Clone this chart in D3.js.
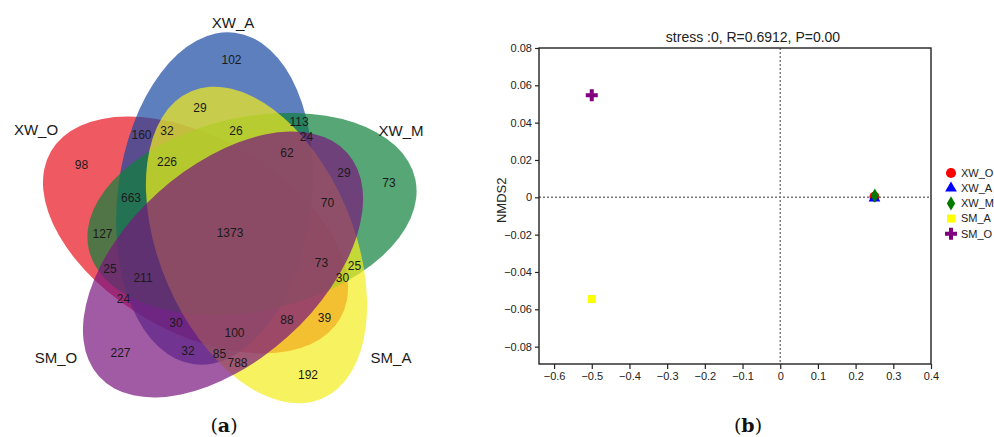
<!DOCTYPE html>
<html>
<head>
<meta charset="utf-8">
<script src="https://cdn.jsdelivr.net/npm/d3@7"></script>
<style>
body { margin: 0; background: #fff; }
svg { display: block; font-family: "Liberation Sans", Arial, sans-serif; }
</style>
</head>
<body>
<script>
var W = 994, H = 437;

// ---------- (a) Venn data ----------
var setNames = ['XW_O', 'XW_A', 'XW_M', 'SM_A', 'SM_O'];
var setColors = ['#e8131f', '#1948a2', '#0e813b', '#f4ec1c', '#79157e'];

// count of each region and the sets that region belongs to
var vennCounts = [102, 29, 113, 160, 32, 26, 24, 98, 226, 62, 29, 73, 663, 70, 127,
                  1373, 25, 211, 73, 25, 30, 24, 30, 100, 88, 39, 32, 85, 788, 227, 192];
var vennRegions = [
    'XW_A', 'XW_A,SM_A', 'XW_A,XW_M', 'XW_O,XW_A', 'XW_O,XW_A,SM_A',
    'XW_A,XW_M,SM_A', 'XW_A,XW_M,SM_O', 'XW_O', 'XW_O,XW_A,XW_M,SM_A', 'XW_A,XW_M,SM_A,SM_O',
    'XW_M,SM_O', 'XW_M', 'XW_O,XW_A,XW_M', 'XW_M,SM_A,SM_O', 'XW_O,XW_M',
    'XW_O,XW_A,XW_M,SM_A,SM_O', 'XW_O,XW_M,SM_O', 'XW_O,XW_A,XW_M,SM_O', 'XW_O,XW_M,SM_A,SM_O', 'XW_M,SM_A',
    'XW_O,XW_M,SM_A', 'XW_O,SM_O', 'XW_O,XW_A,SM_O', 'XW_O,XW_A,SM_A,SM_O', 'XW_O,SM_A,SM_O',
    'XW_O,SM_A', 'XW_A,SM_O', 'XW_A,SM_A,SM_O', 'SM_A,SM_O', 'SM_O', 'SM_A'
];

// ---------- (b) NMDS data ----------
var groups = ['XW_O', 'XW_A', 'XW_M', 'SM_A', 'SM_O'];
var nmds1 = [0.25, 0.25, 0.251, -0.5, -0.5];
var nmds2 = [0.0003, -0.0004, 0.0009, -0.0545, 0.0547];
var xTicks = [-0.6, -0.5, -0.4, -0.3, -0.2, -0.1, 0, 0.1, 0.2, 0.3, 0.4];
var yTicks = [-0.08, -0.06, -0.04, -0.02, 0, 0.02, 0.04, 0.06, 0.08];
var titleText = 'stress :0, R=0.6912, P=0.00';

var svg = d3.select('body').append('svg').attr('width', W).attr('height', H);

// ---------- Venn layout ----------
var RX = 167, RY = 97;
var shapes = [
    {cx: 195.5, cy: 235,   rot: 30,  lx: 36,  ly: 130},
    {cx: 214.5, cy: 198.5, rot: -83, lx: 233, ly: 23},
    {cx: 252,   cy: 214,   rot: -12, lx: 401, ly: 131},
    {cx: 256.5, cy: 245,   rot: 67,  lx: 391, ly: 358},
    {cx: 223,   cy: 264.5, rot: -42, lx: 56,  ly: 358}
];

var venn = svg.append('g');

venn.selectAll('ellipse').data(shapes).enter().append('ellipse')
    .attr('transform', function(d) { return 'translate(' + d.cx + ',' + d.cy + ') rotate(' + d.rot + ')'; })
    .attr('rx', RX).attr('ry', RY)
    .attr('fill', function(d, i) { return setColors[i]; })
    .attr('fill-opacity', 0.7);

// test a point against one ellipse: inside flag and approx distance to its edge
function probe(e, px, py) {
    var t = e.rot * Math.PI / 180, c = Math.cos(t), s = Math.sin(t);
    var dx = px - e.cx, dy = py - e.cy;
    var u = dx * c + dy * s, v = -dx * s + dy * c;
    var q = Math.sqrt(u * u / (RX * RX) + v * v / (RY * RY));
    var g = Math.sqrt(Math.pow(u / (RX * RX), 2) + Math.pow(v / (RY * RY), 2));
    return {inside: q <= 1, dist: g > 0 ? Math.abs(q - 1) * q / g : RY};
}

// find the roomiest spot of every region by scanning a grid
var best = {};
for (var gx = 20; gx <= 440; gx += 1.5) {
    for (var gy = 15; gy <= 415; gy += 1.5) {
        var code = 0, margin = Infinity;
        shapes.forEach(function(e, i) {
            var p = probe(e, gx, gy);
            if (p.inside) code += 1 << i;
            margin = Math.min(margin, p.dist);
        });
        if (!code) continue;
        if (!best[code] || margin > best[code].m) best[code] = {x: gx, y: gy, m: margin};
    }
}

function regionCode(str) {
    return str.split(',').reduce(function(acc, n) { return acc + (1 << setNames.indexOf(n)); }, 0);
}

venn.selectAll('text.count').data(vennCounts).enter().append('text')
    .attr('class', 'count')
    .attr('x', function(d, i) { return best[regionCode(vennRegions[i])].x; })
    .attr('y', function(d, i) { return best[regionCode(vennRegions[i])].y; })
    .attr('dy', '0.35em')
    .attr('text-anchor', 'middle')
    .attr('font-size', '12px')
    .attr('fill', '#1a1a1a')
    .text(function(d) { return d; });

venn.selectAll('text.setname').data(setNames).enter().append('text')
    .attr('class', 'setname')
    .attr('x', function(d, i) { return shapes[i].lx; })
    .attr('y', function(d, i) { return shapes[i].ly; })
    .attr('dy', '0.35em')
    .attr('text-anchor', 'middle')
    .attr('font-size', '15px')
    .attr('fill', '#1a1a1a')
    .text(function(d) { return d; });

// ---------- NMDS plot ----------
var x = d3.scaleLinear().domain([-0.64, 0.4]).range([539, 931]);
var y = d3.scaleLinear().domain([-0.0893, 0.08]).range([364, 48]);

var symbols = [d3.symbolCircle, d3.symbolTriangle, d3.symbolDiamond, d3.symbolSquare, d3.symbolCross];
var symSizes = [80, 60, 60, 64, 80];
var ptColors = ['#ff0000', '#0000ff', '#007a00', '#ffff00', '#800080'];

var plot = svg.append('g');

plot.append('line')
    .attr('x1', x(0)).attr('x2', x(0)).attr('y1', y.range()[1]).attr('y2', y.range()[0])
    .attr('stroke', '#777').attr('stroke-width', 1.4).attr('stroke-dasharray', '2,2');
plot.append('line')
    .attr('x1', x.range()[0]).attr('x2', x.range()[1]).attr('y1', y(0)).attr('y2', y(0))
    .attr('stroke', '#777').attr('stroke-width', 1.4).attr('stroke-dasharray', '2,2');

var xAxis = plot.append('g').attr('transform', 'translate(0,' + y.range()[0] + ')')
    .call(d3.axisBottom(x).tickValues(xTicks).tickSize(5).tickSizeOuter(0)
        .tickFormat(function(d) { return d === 0 ? '0' : d3.format('.1f')(d); }));
var yAxis = plot.append('g').attr('transform', 'translate(' + x.range()[0] + ',0)')
    .call(d3.axisLeft(y).tickValues(yTicks).tickSize(4).tickSizeOuter(0)
        .tickFormat(function(d) { return d === 0 ? '0' : d3.format('.2f')(d); }));

[xAxis, yAxis].forEach(function(ax) {
    ax.select('.domain').remove();
    ax.selectAll('line').attr('stroke', '#222').attr('stroke-width', 1.2);
    ax.selectAll('text').attr('font-size', '11px').attr('fill', '#222')
        .attr('font-family', '"Liberation Sans", Arial, sans-serif');
});

plot.append('rect')
    .attr('x', x.range()[0]).attr('y', y.range()[1])
    .attr('width', x.range()[1] - x.range()[0]).attr('height', y.range()[0] - y.range()[1])
    .attr('fill', 'none').attr('stroke', '#222').attr('stroke-width', 1.4);

plot.selectAll('path.pt').data(groups).enter().append('path')
    .attr('class', 'pt')
    .attr('transform', function(d, i) { return 'translate(' + x(nmds1[i]) + ',' + y(nmds2[i]) + ')'; })
    .attr('d', function(d, i) { return d3.symbol().type(symbols[i]).size(symSizes[i])(); })
    .attr('fill', function(d, i) { return ptColors[i]; });

plot.append('text')
    .attr('x', 753).attr('y', 37).attr('dy', '0.35em')
    .attr('text-anchor', 'middle').attr('font-size', '14px').attr('fill', '#222')
    .text(titleText);

plot.append('text')
    .attr('transform', 'translate(501,' + (y(0) + 3) + ') rotate(-90)')
    .attr('dy', '0.35em')
    .attr('text-anchor', 'middle').attr('font-size', '13px').attr('fill', '#222')
    .text('NMDS2');

// legend
var legend = plot.append('g').attr('transform', 'translate(951,173)');
var item = legend.selectAll('g').data(groups).enter().append('g')
    .attr('transform', function(d, i) { return 'translate(0,' + i * 15.2 + ')'; });
item.append('path')
    .attr('d', function(d, i) { return d3.symbol().type(symbols[i]).size(symSizes[i])(); })
    .attr('fill', function(d, i) { return ptColors[i]; });
item.append('text')
    .attr('x', 10).attr('dy', '0.35em')
    .attr('font-size', '11px').attr('fill', '#222')
    .text(function(d) { return d; });

// panel letters
var letters = [{t: 'a', x: 224}, {t: 'b', x: 748}];
letters.forEach(function(l) {
    var tx = svg.append('text')
        .attr('x', l.x).attr('y', 425).attr('dy', '0.35em')
        .attr('text-anchor', 'middle')
        .attr('font-family', '"DejaVu Serif", "Liberation Serif", serif')
        .attr('font-size', '19px').attr('fill', '#111');
    tx.append('tspan').text('(');
    tx.append('tspan').attr('font-weight', 'bold').text(l.t);
    tx.append('tspan').text(')');
});
</script>
</body>
</html>
